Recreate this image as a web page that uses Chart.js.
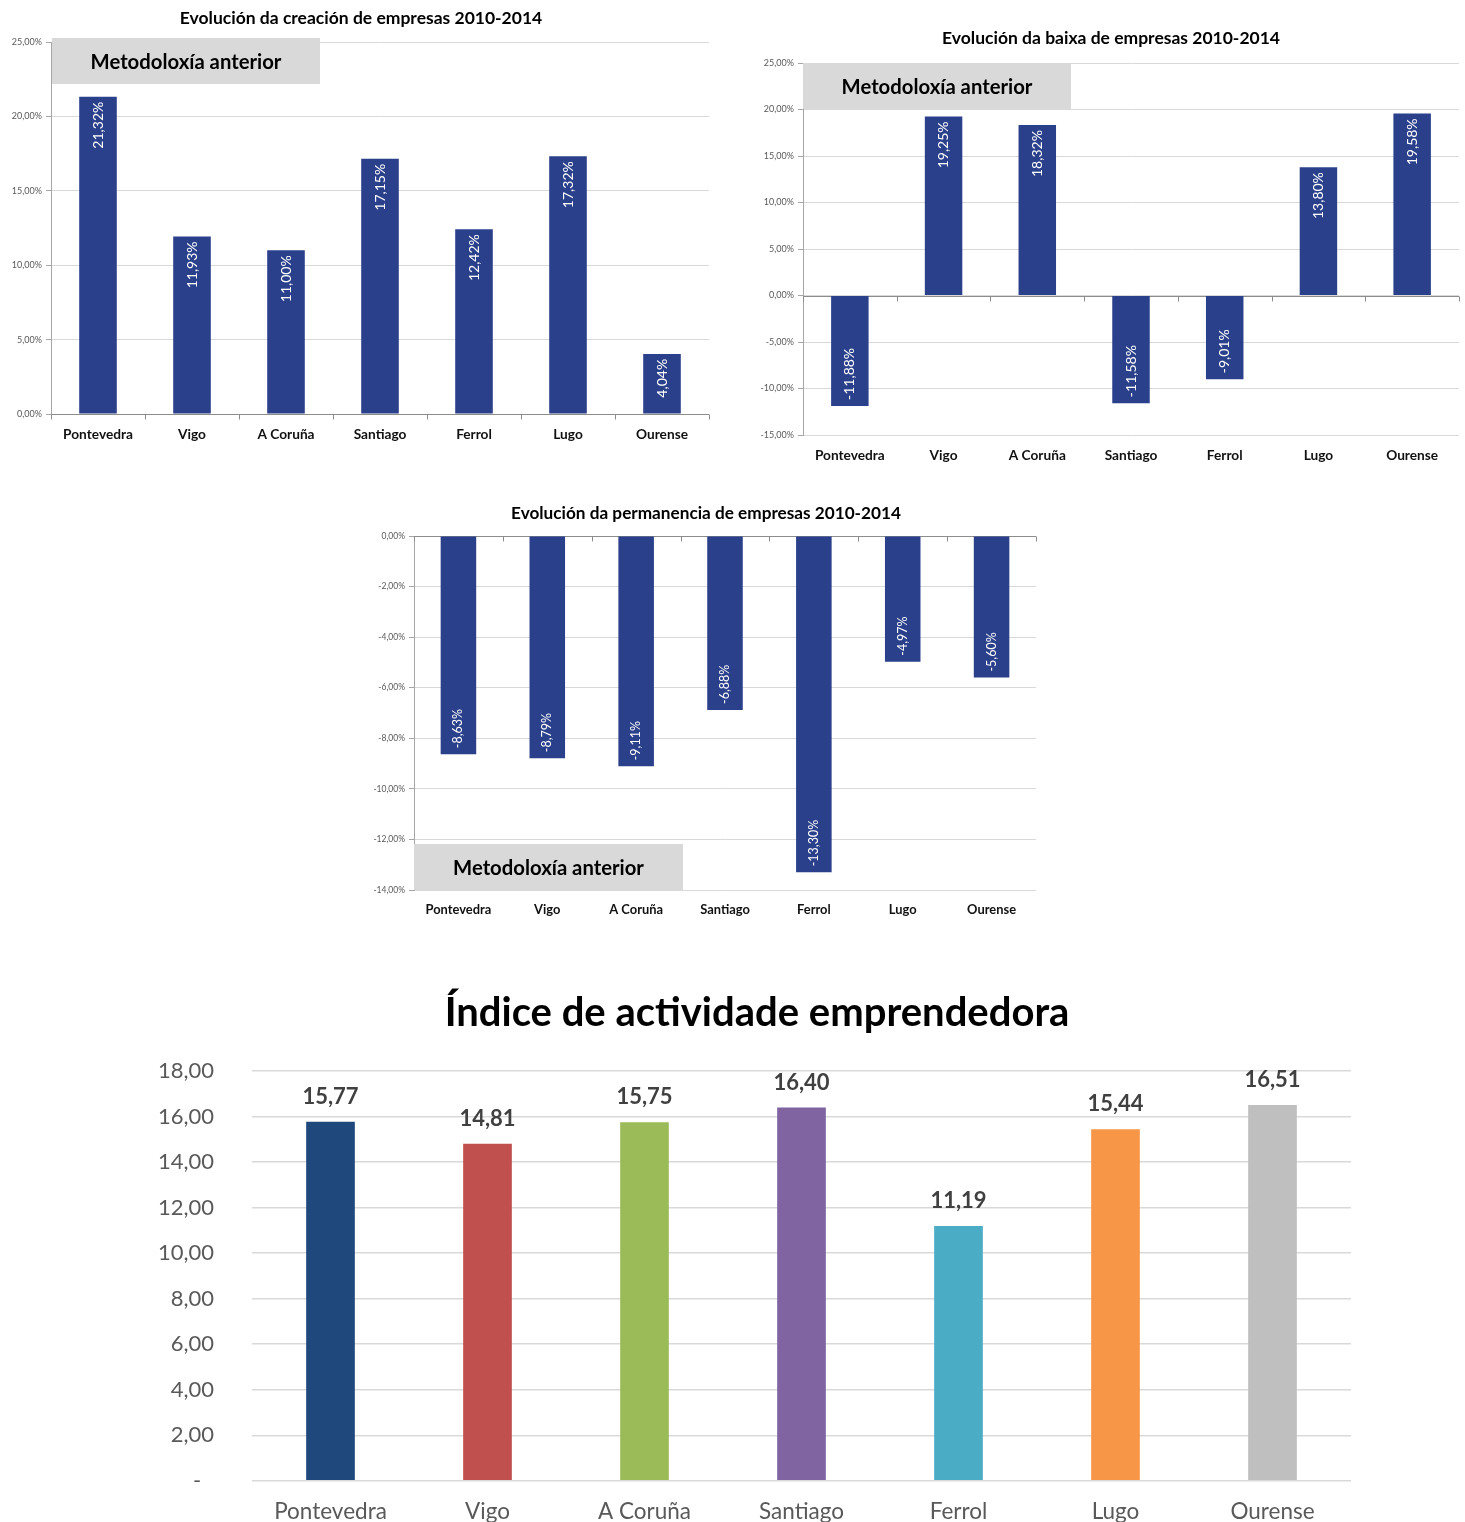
<!DOCTYPE html>
<html>
<head>
<meta charset="utf-8">
<script src="https://cdn.jsdelivr.net/npm/chart.js@4.4.1/dist/chart.umd.min.js"></script>
<style>
body{margin:0;background:#fff;width:1465px;height:1522px;position:relative;overflow:hidden}
canvas{position:absolute}
</style>
</head>
<body>
<canvas id="c1" width="720" height="450" style="left:0;top:0"></canvas>
<canvas id="c2" width="725" height="460" style="left:740px;top:20px"></canvas>
<canvas id="c3" width="690" height="440" style="left:360px;top:495px"></canvas>
<canvas id="c4" width="1465" height="572" style="left:0;top:960px"></canvas>
<script>
// datos
var categorias = ['Pontevedra', 'Vigo', 'A Coruña', 'Santiago', 'Ferrol', 'Lugo', 'Ourense'];
var creacion = [21.32, 11.93, 11.00, 17.15, 12.42, 17.32, 4.04];
var baixa = [-11.88, 19.25, 18.32, -11.58, -9.01, 13.80, 19.58];
var permanencia = [-8.63, -8.79, -9.11, -6.88, -13.30, -4.97, -5.60];
var indice = [15.77, 14.81, 15.75, 16.40, 11.19, 15.44, 16.51];
// eixos: min, max, paso
var eixoCreacion = [0, 25, 5];
var eixoBaixa = [-15, 25, 5];
var eixoPermanencia = [-14, 0, 2];
var eixoIndice = [0, 18, 2];

var coresIndice = ['#1f497d', '#c0504d', '#9bbb59', '#8064a2', '#4bacc6', '#f79646', '#bfbfbf'];
var F = 'Lato, "Open Sans", sans-serif';

function fmt(v) {
	return (Math.round(v * 100) / 100).toFixed(2).replace('.', ',');
}

function debuxo(cfg) {
	return {
		id: 'debuxo',
		beforeDatasetsDraw: function(chart) {
			var ctx = chart.ctx, a = chart.chartArea;
			ctx.save();
			// caixa "Metodoloxía anterior"
			var b = cfg.box;
			ctx.fillStyle = '#d9d9d9';
			ctx.fillRect(b[0], b[1], b[2] - b[0], b[3] - b[1]);
			ctx.fillStyle = '#000';
			ctx.font = 'bold ' + cfg.boxFont + 'px ' + F;
			ctx.textAlign = 'center';
			ctx.textBaseline = 'middle';
			ctx.fillText('Metodoloxía anterior', (b[0] + b[2]) / 2, (b[1] + b[3]) / 2 + 1);
			// liña do cero con marcas
			var y0 = Math.round(chart.scales.y.getPixelForValue(0)) + 0.5;
			ctx.strokeStyle = '#8c8c8c';
			ctx.lineWidth = 1;
			ctx.beginPath();
			ctx.moveTo(a.left, y0); ctx.lineTo(a.right, y0);
			var paso = (a.right - a.left) / categorias.length;
			for (var i = 0; i <= categorias.length; i++) {
				var x = Math.round(a.left + i * paso) + 0.5;
				ctx.moveTo(x, y0); ctx.lineTo(x, y0 + 5);
			}
			ctx.stroke();
			ctx.restore();
		},
		afterDatasetsDraw: function(chart) {
			var ctx = chart.ctx;
			var meta = chart.getDatasetMeta(0);
			var vals = chart.data.datasets[0].data;
			ctx.save();
			ctx.fillStyle = '#fff';
			ctx.font = cfg.labFont + 'px ' + F;
			ctx.textBaseline = 'middle';
			meta.data.forEach(function(bar, i) {
				var v = vals[i];
				ctx.save();
				if (v >= 0) {
					ctx.translate(bar.x, bar.y + 5);
					ctx.rotate(-Math.PI / 2);
					ctx.textAlign = 'right';
				} else {
					ctx.translate(bar.x, bar.y - 6);
					ctx.rotate(-Math.PI / 2);
					ctx.textAlign = 'left';
				}
				ctx.fillText(fmt(v) + '%', 0, 0);
				ctx.restore();
			});
			ctx.restore();
		},
		afterDraw: function(chart) {
			var ctx = chart.ctx;
			ctx.save();
			ctx.fillStyle = '#000';
			ctx.font = 'bold ' + cfg.titleFont + 'px ' + F;
			ctx.textAlign = 'center';
			ctx.textBaseline = 'middle';
			ctx.fillText(cfg.title, cfg.titleX, cfg.titleY);
			ctx.restore();
		}
	};
}

function graficoPorcentaxe(id, valores, eixo, cfg) {
	return new Chart(document.getElementById(id), {
		type: 'bar',
		data: {
			labels: categorias,
			datasets: [{
				data: valores,
				backgroundColor: '#2b408b',
				barPercentage: 0.4,
				categoryPercentage: 1
			}]
		},
		options: {
			responsive: false,
			animation: false,
			devicePixelRatio: 1,
			layout: { padding: { left: 0, top: cfg.top, right: cfg.right, bottom: 0 } },
			plugins: { legend: { display: false }, tooltip: { enabled: false } },
			scales: {
				x: {
					grid: { display: false, drawTicks: false },
					border: { display: false },
					ticks: { font: { family: F, size: cfg.xFont, weight: 'bold' }, color: '#111', padding: cfg.xPad },
					afterFit: function(s) { s.height = cfg.xH; }
				},
				y: {
					min: eixo[0],
					max: eixo[1],
					ticks: {
						stepSize: eixo[2],
						font: { family: F, size: cfg.yFont },
						color: '#595959',
						padding: 4,
						callback: function(v) { return fmt(v) + '%'; }
					},
					grid: { color: '#d9d9d9', tickLength: 5, tickColor: '#a6a6a6' },
					border: { color: '#a6a6a6' },
					afterFit: function(s) { s.width = cfg.yW; }
				}
			}
		},
		plugins: [debuxo(cfg)]
	});
}

graficoPorcentaxe('c1', creacion, eixoCreacion, {
	title: 'Evolución da creación de empresas 2010-2014', titleX: 361, titleY: 18, titleFont: 17.5,
	top: 42, right: 11, yW: 51, xH: 36, xFont: 13.7, xPad: 12, yFont: 9, labFont: 14,
	box: [52, 38, 320, 84], boxFont: 20.3
});

graficoPorcentaxe('c2', baixa, eixoBaixa, {
	title: 'Evolución da baixa de empresas 2010-2014', titleX: 1111 - 740, titleY: 18, titleFont: 17.5,
	top: 43, right: 6, yW: 63, xH: 45, xFont: 13.7, xPad: 12, yFont: 9, labFont: 14,
	box: [63, 43, 331, 89], boxFont: 20.3
});

graficoPorcentaxe('c3', permanencia, eixoPermanencia, {
	title: 'Evolución da permanencia de empresas 2010-2014', titleX: 346, titleY: 18, titleFont: 17.2,
	top: 41, right: 14, yW: 54, xH: 45, xFont: 12.9, xPad: 12, yFont: 8.5, labFont: 12.5,
	box: [54, 349, 323, 395], boxFont: 20.3
});

// Índice de actividade emprendedora
new Chart(document.getElementById('c4'), {
	type: 'bar',
	data: {
		labels: categorias,
		datasets: [{
			data: indice,
			backgroundColor: coresIndice,
			barPercentage: 0.31,
			categoryPercentage: 1
		}]
	},
	options: {
		responsive: false,
		animation: false,
		devicePixelRatio: 1,
		layout: { padding: { left: 0, top: 111, right: 114, bottom: 0 } },
		plugins: { legend: { display: false }, tooltip: { enabled: false } },
		scales: {
			x: {
				grid: { display: false, drawTicks: false },
				border: { display: false },
				ticks: { font: { family: F, size: 22.5 }, color: '#595959', padding: 17 },
				afterFit: function(s) { s.height = 42; }
			},
			y: {
				min: eixoIndice[0],
				max: eixoIndice[1],
				ticks: {
					stepSize: eixoIndice[2],
					font: { family: F, size: 22 },
					color: '#595959',
					padding: 38,
					callback: function(v) { return v === 0 ? '-\u2007' : fmt(v); }
				},
				grid: { color: '#d9d9d9', lineWidth: 1.5, drawTicks: false },
				border: { display: false },
				afterFit: function(s) { s.width = 252; }
			}
		}
	},
	plugins: [{
		id: 'etiquetas',
		afterDatasetsDraw: function(chart) {
			var ctx = chart.ctx;
			ctx.save();
			ctx.fillStyle = '#404040';
			ctx.font = 'bold 22px ' + F;
			ctx.textAlign = 'center';
			ctx.textBaseline = 'bottom';
			chart.getDatasetMeta(0).data.forEach(function(bar, i) {
				ctx.fillText(fmt(indice[i]), bar.x, bar.y - 14);
			});
			ctx.font = 'bold 40px ' + F;
			ctx.fillStyle = '#000';
			ctx.textBaseline = 'middle';
			ctx.fillText('Índice de actividade emprendedora', 757, 53);
			ctx.restore();
		}
	}]
});
</script>
</body>
</html>
